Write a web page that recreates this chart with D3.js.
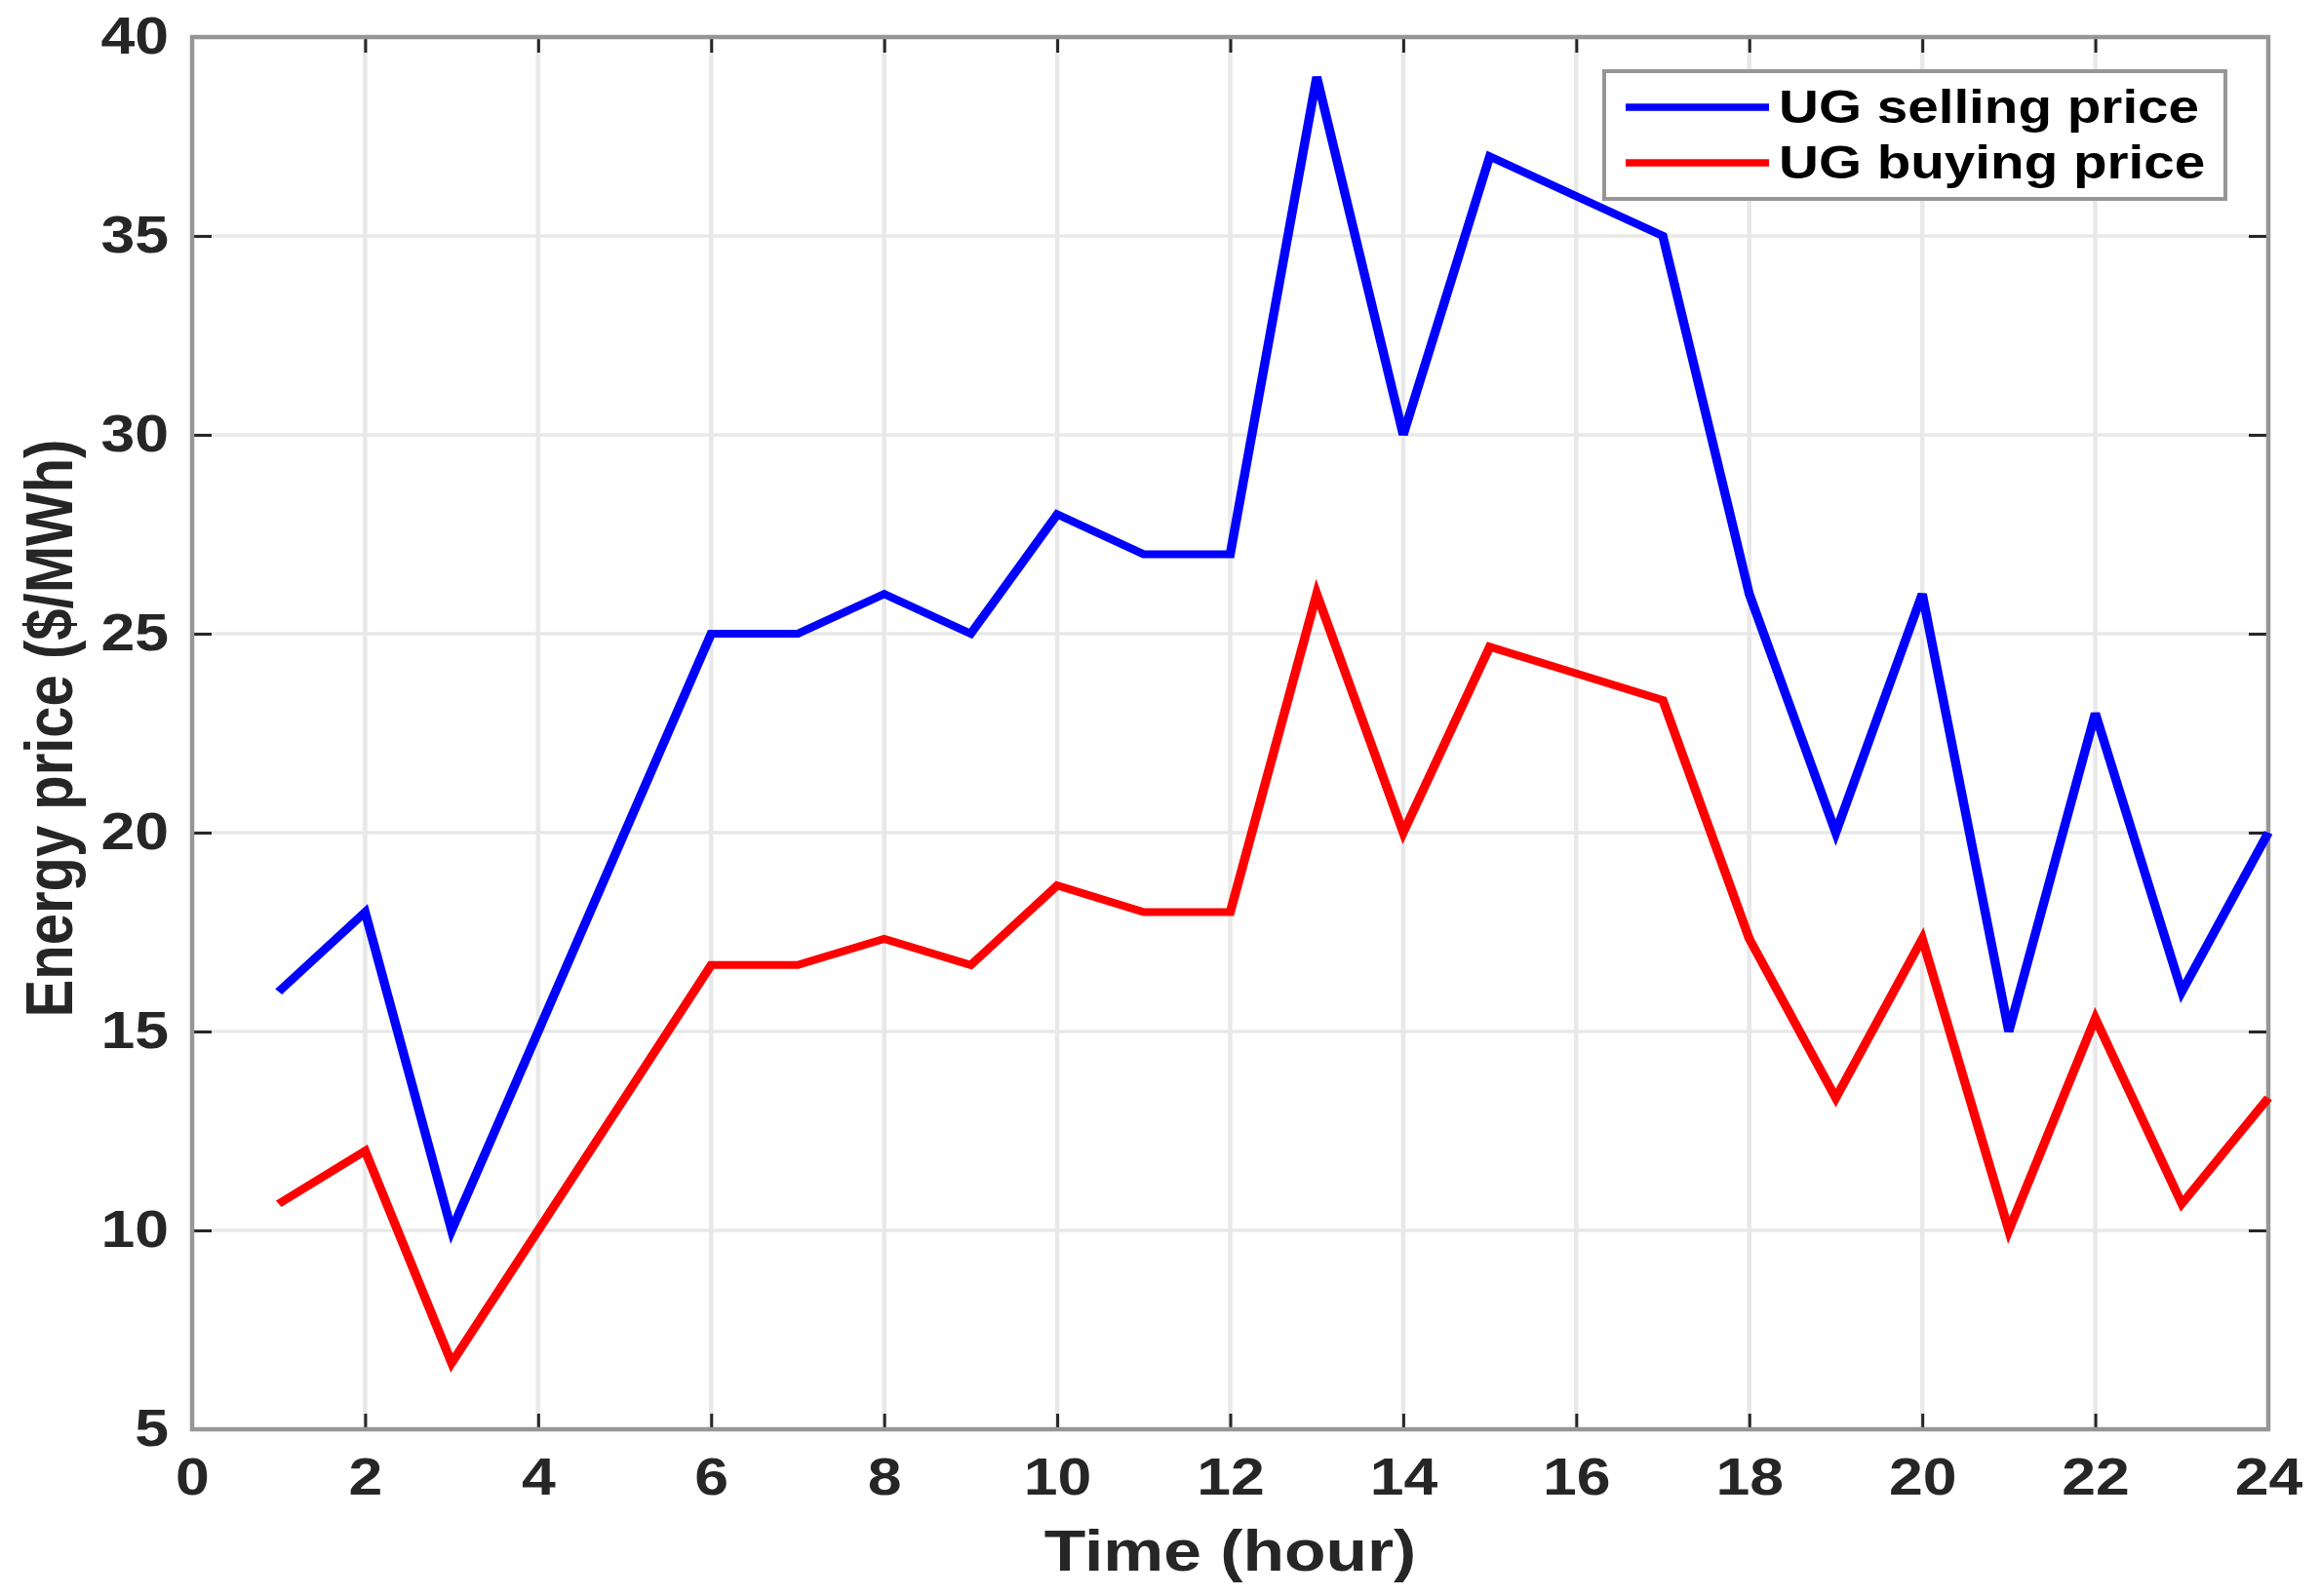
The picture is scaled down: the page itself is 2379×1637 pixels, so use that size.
<!DOCTYPE html>
<html>
<head>
<meta charset="utf-8">
<script src="https://cdn.jsdelivr.net/npm/d3@7"></script>
<style>
  body { margin: 0; background: #fff; }
  svg { display: block; }
  text { font-family: "Liberation Sans", Arial, sans-serif; font-weight: bold; }
</style>
</head>
<body>
<svg id="chart" width="2379" height="1637"></svg>
<script>
// data
var hours = [1, 2, 3, 4, 5, 6, 7, 8, 9, 10, 11, 12, 13, 14, 15, 16, 17, 18, 19, 20, 21, 22, 23, 24];
var sellingPrice = [16, 18, 10, 15, 20, 25, 25, 26, 25, 28, 27, 27, 39, 30, 37, 36, 35, 26, 20, 26, 15, 23, 16, 20];
var buyingPrice = [10.67, 12, 6.67, 10, 13.33, 16.67, 16.67, 17.33, 16.67, 18.67, 18, 18, 26, 20, 24.67, 24, 23.33, 17.33, 13.33, 17.33, 10, 15.33, 10.67, 13.33];
var seriesNames = ["UG selling price", "UG buying price"];
var seriesColors = ["#0000ff", "#ff0000"];
var xTicks = [0, 2, 4, 6, 8, 10, 12, 14, 16, 18, 20, 22, 24];
var yTicks = [5, 10, 15, 20, 25, 30, 35, 40];

var SX = 1.18; // the original figure is stretched sideways

var svg = d3.select("#chart"),
    margin = {top: 38, right: 53, bottom: 171, left: 197},
    width = +svg.attr("width") - margin.left - margin.right,
    height = +svg.attr("height") - margin.top - margin.bottom,
    g = svg.append("g").attr("transform", "translate(" + margin.left + "," + margin.top + ")");

svg.insert("rect", ":first-child")
    .attr("width", "100%").attr("height", "100%").attr("fill", "#fff");

var x = d3.scaleLinear().domain([0, 24]).range([0, width]);
var y = d3.scaleLinear().domain([5, 40]).range([height, 0]);

// grid
g.append("g").selectAll("line")
    .data(xTicks.slice(1, -1))
  .enter().append("line")
    .attr("x1", function(d) { return x(d); })
    .attr("x2", function(d) { return x(d); })
    .attr("y1", 0).attr("y2", height)
    .attr("stroke", "#e8e8e8").attr("stroke-width", 4.5);

g.append("g").selectAll("line")
    .data(yTicks.slice(1, -1))
  .enter().append("line")
    .attr("y1", function(d) { return y(d); })
    .attr("y2", function(d) { return y(d); })
    .attr("x1", 0).attr("x2", width)
    .attr("stroke", "#e8e8e8").attr("stroke-width", 3.5);

// axes, ticks pointing inward
function styleAxis(sel) {
  sel.select(".domain").remove();
  sel.selectAll(".tick line").attr("stroke", "#262626").attr("stroke-width", 3);
  sel.selectAll(".tick text")
      .attr("fill", "#262626")
      .style("font-size", "53px");
}

var xAxis = g.append("g")
    .attr("transform", "translate(0," + height + ")")
    .call(d3.axisBottom(x).tickValues(xTicks).tickSizeInner(-16).tickSizeOuter(0).tickPadding(29))
    .call(styleAxis);
xAxis.selectAll(".tick text").attr("transform", "scale(" + SX + ",1)");

var yAxis = g.append("g")
    .call(d3.axisLeft(y).tickValues(yTicks).tickSizeInner(-20).tickSizeOuter(0).tickPadding(20.3))
    .call(styleAxis);
yAxis.selectAll(".tick text").attr("transform", "scale(" + SX + ",1)");

g.append("g")
    .call(d3.axisTop(x).tickValues(xTicks).tickSizeInner(-16).tickSizeOuter(0).tickFormat(""))
    .call(styleAxis);

g.append("g")
    .attr("transform", "translate(" + width + ",0)")
    .call(d3.axisRight(y).tickValues(yTicks).tickSizeInner(-20).tickSizeOuter(0).tickFormat(""))
    .call(styleAxis);

// frame
g.append("rect")
    .attr("width", width).attr("height", height)
    .attr("fill", "none").attr("stroke", "#969696").attr("stroke-width", 4.5);

// lines, drawn in the same sideways stretch as the original
var series = [sellingPrice, buyingPrice];
var xs = x.copy().range([0, width / SX]);
var line = d3.line()
    .x(function(d, i) { return xs(hours[i]); })
    .y(function(d) { return y(d); });

g.append("g")
    .attr("transform", "scale(" + SX + ",1)")
  .selectAll("path")
    .data(series)
  .enter().append("path")
    .attr("d", line)
    .attr("fill", "none")
    .attr("stroke", function(d, i) { return seriesColors[i]; })
    .attr("stroke-width", 8)
    .attr("stroke-linejoin", "miter");

// axis titles
svg.append("text")
    .attr("transform", "translate(" + (margin.left + width / 2) + ",1611) scale(" + SX + ",1)")
    .attr("text-anchor", "middle")
    .attr("fill", "#262626")
    .style("font-size", "59px")
    .text("Time (hour)");

svg.append("text")
    .attr("transform", "translate(74,747) scale(" + SX + ",1) rotate(-90)")
    .attr("text-anchor", "middle")
    .attr("fill", "#262626")
    .style("font-size", "58px")
    .text("Energy price ($/MWh)");

// legend
var legend = svg.append("g");
legend.append("rect")
    .attr("x", 1645).attr("y", 73)
    .attr("width", 637).attr("height", 131)
    .attr("fill", "#fff").attr("stroke", "#969696").attr("stroke-width", 4);

var item = legend.selectAll("g.item")
    .data(seriesNames)
  .enter().append("g")
    .attr("class", "item")
    .attr("transform", function(d, i) { return "translate(0," + (110 + i * 57) + ")"; });

item.append("line")
    .attr("x1", 1667).attr("x2", 1814)
    .attr("stroke", function(d, i) { return seriesColors[i]; })
    .attr("stroke-width", 7.5);

item.append("text")
    .attr("transform", "translate(1824,16) scale(" + SX + ",1)")
    .attr("fill", "#000")
    .style("font-size", "48px")
    .text(function(d) { return d; });
</script>
</body>
</html>
